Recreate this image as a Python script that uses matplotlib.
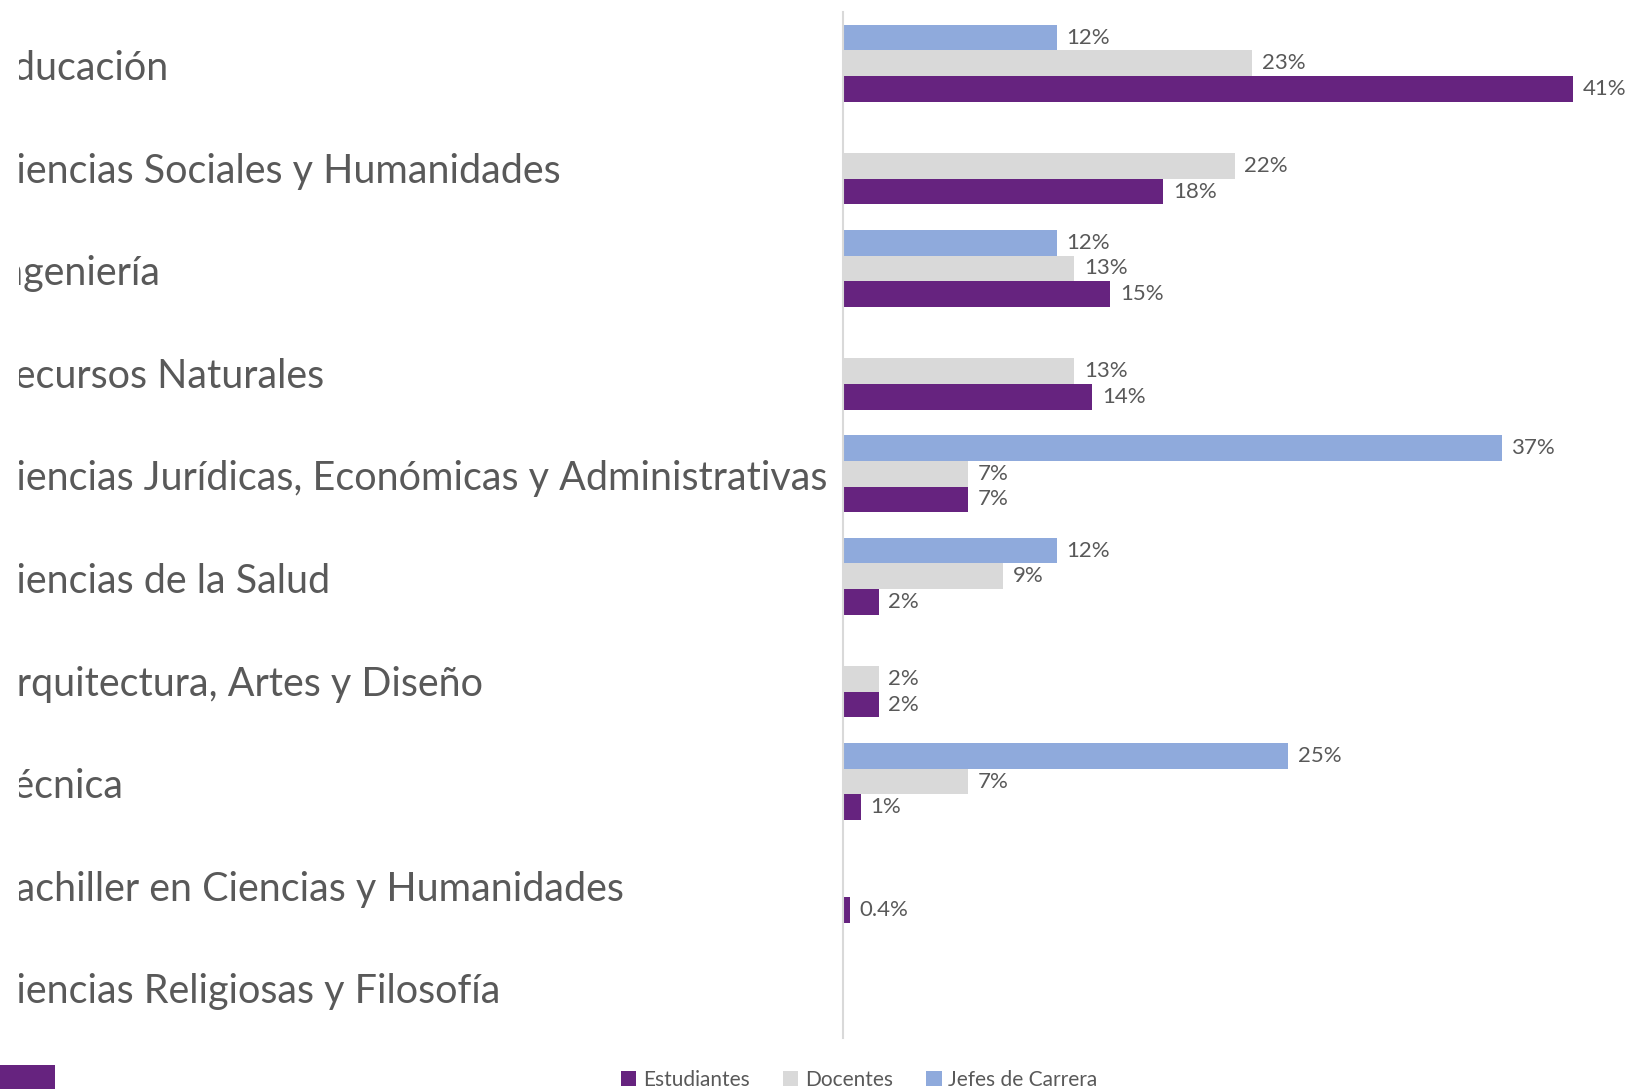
import numpy as np
import matplotlib
matplotlib.use("Agg")
import matplotlib.pyplot as plt
from matplotlib import transforms
from matplotlib.patches import Patch, Rectangle

# Areas of study and the share of each group (percent); NaN = no bar
categories = [
    "Educación",
    "Ciencias Sociales y Humanidades",
    "Ingeniería",
    "Recursos Naturales",
    "Ciencias Jurídicas, Económicas y Administrativas",
    "Ciencias de la Salud",
    "Arquitectura, Artes y Diseño",
    "Técnica",
    "Bachiller en Ciencias y Humanidades",
    "Ciencias Religiosas y Filosofía",
]
estudiantes = [41, 18, 15, 14, 7, 2, 2, 1, 0.4, np.nan]
docentes = [23, 22, 13, 13, 7, 9, 2, 7, np.nan, np.nan]
jefes = [12, np.nan, 12, np.nan, 37, 12, np.nan, 25, np.nan, np.nan]

series_names = ["Estudiantes", "Docentes", "Jefes de Carrera"]

PURPLE = "#66237F"
GRAY = "#D9D9D9"
BLUE = "#8FAADC"
TEXT = "#595959"

W, H = 1634, 1089
fig = plt.figure(figsize=(W / 100, H / 100), dpi=100)
fig.patch.set_facecolor("white")

ax_left, ax_right = 843, 1634
ax_top, ax_bottom = 12, 1038
ax = fig.add_axes([ax_left / W, 1 - ax_bottom / H,
                   (ax_right - ax_left) / W, (ax_bottom - ax_top) / H])

y = np.arange(len(categories))
bh = 0.25
groups = [(jefes, -bh, BLUE), (docentes, 0.0, GRAY), (estudiantes, bh, PURPLE)]
for vals, off, col in groups:
    vals = np.asarray(vals, dtype=float)
    mask = ~np.isnan(vals)
    ax.barh(y[mask] + off, vals[mask], height=bh, color=col, linewidth=0)
    for yi, v in zip(y[mask] + off, vals[mask]):
        txt = f"{v:g}%" if v < 1 else f"{v:.0f}%"
        ax.annotate(txt, (v, yi), xytext=(7, 0), textcoords="offset points",
                    ha="left", va="center", fontsize=16, color=TEXT,
                    family="Lato", annotation_clip=False)

ax.set_xlim(0, (ax_right - ax_left) / 17.8)
ax.set_ylim(len(categories) - 0.5, -0.5)
ax.set_xticks([])
ax.set_yticks([])
for s in ["top", "right", "bottom"]:
    ax.spines[s].set_visible(False)
ax.spines["left"].set_color("#D9D9D9")
ax.spines["left"].set_linewidth(1.5)

# Category names: left aligned, cut off by a clip edge near the left margin
cat_font = dict(family="Lato", color=TEXT)
renderer = fig.canvas.get_renderer()
ref_size = 30.0
probe = fig.text(0, 0, categories[4], fontsize=ref_size, **cat_font)
w_long = probe.get_window_extent(renderer).width
probe.remove()
x0, right_end, clip_x = -10.0, 828.0, 19.0
size = ref_size * (right_end - x0) / w_long

clip = transforms.TransformedBbox(
    transforms.Bbox([[clip_x / W, 0], [1, 1]]), fig.transFigure)
trans = transforms.blended_transform_factory(fig.transFigure, ax.transData)
for yi, name in zip(y, categories):
    t = fig.text(x0 / W, yi + 0.05, name, transform=trans, ha="left",
                 va="center", fontsize=size, **cat_font)
    t.set_clip_box(clip)
    t.set_clip_on(True)

handles = [Patch(facecolor=PURPLE), Patch(facecolor=GRAY), Patch(facecolor=BLUE)]
fig.legend(handles, series_names, loc="center", bbox_to_anchor=(859 / W, 1 - 1080 / H),
           ncol=3, frameon=False, handlelength=0.75, handleheight=0.75,
           handletextpad=0.3, columnspacing=1.6, labelcolor=TEXT,
           prop=dict(family="Lato", size=15))

# Purple corner block
fig.patches.append(Rectangle((0, 0), 55 / W, 24 / H, transform=fig.transFigure,
                             facecolor=PURPLE, edgecolor="none"))

fig.savefig("out.png", dpi=100, facecolor="white")
